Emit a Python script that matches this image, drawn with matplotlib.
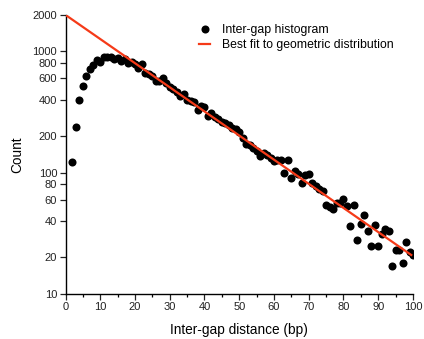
import numpy as np
import matplotlib
matplotlib.use("Agg")
import matplotlib.pyplot as plt
from matplotlib.ticker import FixedLocator, NullLocator, MultipleLocator

plt.rcParams['font.family'] = ['Liberation Sans', 'DejaVu Sans']

# Data
gap_distance = list(range(2, 101))
counts = [122, 240, 398, 518, 628, 713, 778, 850, 824, 906,
          895, 895, 861, 889, 840, 861, 809, 824, 784, 726,
          792, 668, 651, 628, 565, 570, 598, 546, 506, 490,
          466, 430, 444, 398, 390, 385, 329, 355, 350, 296,
          310, 290, 275, 262, 255, 247, 232, 228, 215, 194,
          172, 168, 159, 150, 137, 146, 140, 132, 124, 126,
          127, 99, 126, 90, 104, 98, 82, 96, 97, 82,
          78, 74, 71, 54, 52, 50, 56, 56, 61, 53,
          36, 54, 28, 38, 45, 33, 25, 37, 25, 31,
          34, 33, 17, 23, 23, 18, 27, 22, 21]
fit_start = 2000.0
fit_ratio = 10 ** (-0.0199)
fit_x = np.linspace(0, 99.5, 200)
fit_y = fit_start * fit_ratio ** fit_x

y_ticks = [10, 20, 40, 60, 80, 100, 200, 400, 600, 800, 1000, 2000]

fig = plt.figure(figsize=(4.24, 3.39), dpi=100)
ax = fig.add_axes([0.1545, 0.133, 0.8195, 0.823])

ax.plot(fit_x, fit_y, color='#f53a18', lw=1.6, label='Best fit to geometric distribution', zorder=3)
ax.plot(gap_distance, counts, 'o', color='black', ms=5.8, mew=0,
        label='Inter-gap histogram', zorder=2)

ax.set_yscale('log')
ax.set_ylim(10, 2000)
ax.set_xlim(0, 100)
ax.yaxis.set_major_locator(FixedLocator(y_ticks))
ax.yaxis.set_minor_locator(NullLocator())
ax.set_yticklabels([str(t) for t in y_ticks])
ax.xaxis.set_major_locator(MultipleLocator(10))
ax.xaxis.set_minor_locator(MultipleLocator(5))

for s in ['top', 'right']:
    ax.spines[s].set_visible(False)
for s in ['left', 'bottom']:
    ax.spines[s].set_linewidth(1.0)

ax.tick_params(axis='both', which='major', direction='out', length=4, width=0.9,
               labelsize=8, pad=2, colors='#222222', labelcolor='#222222')
ax.tick_params(axis='x', which='minor', direction='out', length=2.5, width=0.9)

ax.set_xlabel('Inter-gap distance (bp)', fontsize=9.8, labelpad=8)
ax.set_ylabel('Count', fontsize=9.8, labelpad=6)

handles, labels = ax.get_legend_handles_labels()
leg = fig.legend(handles[::-1], labels[::-1], loc='upper left', frameon=False,
                 fontsize=8.8, handlelength=0.9, handletextpad=0.95,
                 borderpad=0, borderaxespad=0, labelspacing=0.27,
                 bbox_to_anchor=(199 / 424, 1 - 24 / 339),
                 bbox_transform=fig.transFigure)

fig.savefig('out.png', dpi=100)
